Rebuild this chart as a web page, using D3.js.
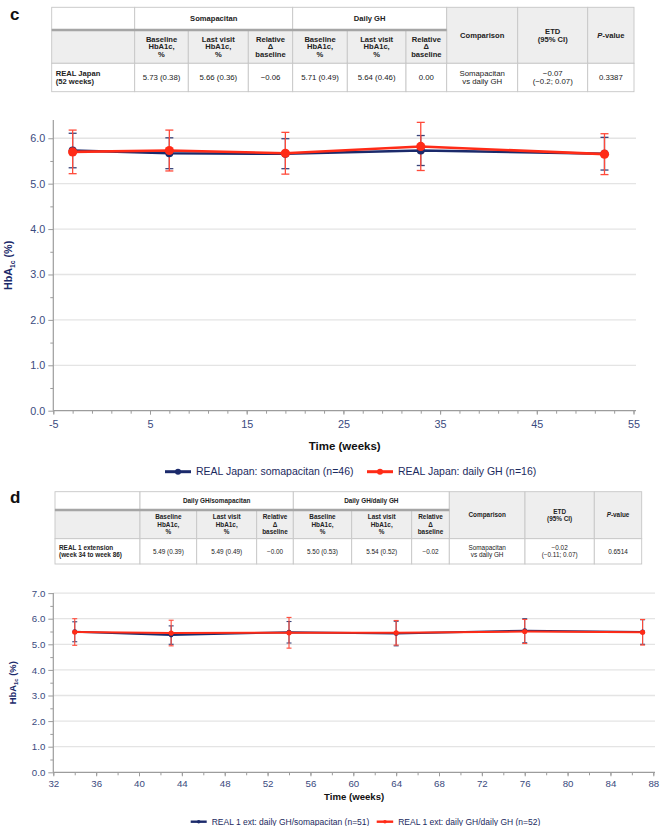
<!DOCTYPE html>
<html><head><meta charset="utf-8">
<script src="https://cdn.jsdelivr.net/npm/d3@7"></script>
<style>body{margin:0;background:#fff} svg{display:block;font-family:"Liberation Sans",Arial,sans-serif}</style>
</head><body><svg id="root" width="660" height="826"></svg>
<script>
// ---------- DATA ----------
// Panel c: REAL Japan
const weeksC = [-3, 7, 19, 33, 52];
const somaC = [5.73, 5.67, 5.66, 5.73, 5.66];
const somaCsd = [0.38, 0.34, 0.33, 0.33, 0.36];
const dailyC = [5.70, 5.73, 5.67, 5.82, 5.65];
const dailyCsd = [0.48, 0.45, 0.46, 0.53, 0.45];
const xTickLabelsC = [-5, 5, 15, 25, 35, 45, 55];
const yTickLabelsC = [0, 1, 2, 3, 4, 5, 6];
const legendC = ["REAL Japan: somapacitan (n=46)", "REAL Japan: daily GH (n=16)"];

// Panel d: REAL 1 extension
const weeksD = [34, 43, 54, 64, 76, 87];
const somaD = [5.49, 5.36, 5.47, 5.42, 5.53, 5.48];
const somaDsd = [0.39, 0.36, 0.42, 0.48, 0.47, 0.48];
const dailyD = [5.48, 5.44, 5.45, 5.45, 5.50, 5.47];
const dailyDsd = [0.52, 0.50, 0.60, 0.48, 0.47, 0.50];
const xTickLabelsD = [32, 36, 40, 44, 48, 52, 56, 60, 64, 68, 72, 76, 80, 84, 88];
const yTickLabelsD = [0, 1, 2, 3, 4, 5, 6, 7];
const legendD = ["REAL 1 ext: daily GH/somapacitan (n=51)", "REAL 1 ext: daily GH/daily GH (n=52)"];

// Tables
const subHeads = ["Baseline\nHbA1c,\n%", "Last visit\nHbA1c,\n%", "Relative\nΔ\nbaseline"];
const extraHeads = ["Comparison", "ETD\n(95% CI)", "P-value"];
const groupsC = ["Somapacitan", "Daily GH"];
const rowC = ["REAL Japan\n(52 weeks)", "5.73 (0.38)", "5.66 (0.36)", "−0.06", "5.71 (0.49)", "5.64 (0.46)", "0.00", "Somapacitan\nvs daily GH", "−0.07\n(−0.2; 0.07)", "0.3387"];
const groupsD = ["Daily GH/somapacitan", "Daily GH/daily GH"];
const rowD = ["REAL 1 extension\n(week 34 to week 86)", "5.49 (0.39)", "5.49 (0.49)", "−0.00", "5.50 (0.53)", "5.54 (0.52)", "−0.02", "Somapacitan\nvs daily GH", "−0.02\n(−0.11; 0.07)", "0.6514"];

const NAVY = "#1b2a6b", RED = "#ff2b17", TICKCOL = "#3a4a7e";
const svg = d3.select("#root");

// ---------- TABLE ----------
function drawTable(cfg) {
  const g = svg.append("g");
  const {cols, rows, groups, row, hfs, bfs, lh} = cfg;
  const grey = "#eeeeee";
  const cells = [];
  cells.push({c0:0,c1:1,r0:0,r1:1,t:"",fill:"#fff"});
  groups.forEach((gr,i)=>cells.push({c0:1+3*i,c1:4+3*i,r0:0,r1:1,t:gr,bold:true,fill:"#fff"}));
  extraHeads.forEach((h,i)=>cells.push({c0:7+i,c1:8+i,r0:0,r1:2,t:h,bold:true,fill:grey}));
  cells.push({c0:0,c1:1,r0:1,r1:2,t:"",fill:grey});
  for (let i=0;i<6;i++) cells.push({c0:1+i,c1:2+i,r0:1,r1:2,t:subHeads[i%3],bold:true,fill:grey});
  row.forEach((t,i)=>cells.push({c0:i,c1:i+1,r0:2,r1:3,t,bold:i===0,left:i===0,fill:"#fff"}));

  cells.forEach(c=>{
    const x0=cols[c.c0], x1=cols[c.c1], y0=rows[c.r0], y1=rows[c.r1];
    g.append("rect").attr("x",x0).attr("y",y0).attr("width",x1-x0).attr("height",y1-y0)
      .attr("fill",c.fill).attr("stroke","#c6c6c6").attr("stroke-width",0.9);
    if (!c.t) return;
    const lines = c.t.split("\n");
    const fs = c.bold ? hfs : bfs;
    const cy = (y0+y1)/2;
    const t = g.append("text").attr("font-size",fs).attr("font-weight",c.bold?"bold":"normal")
      .attr("fill","#222").attr("text-anchor",c.left?"start":"middle");
    lines.forEach((ln,k)=>{
      const ty = cy - (lines.length-1)*lh/2 + k*lh + fs*0.35;
      const tx = c.left ? x0+4 : (x0+x1)/2;
      if (ln==="P-value") {
        const ts = t.append("tspan").attr("x",tx).attr("y",ty);
        ts.append("tspan").attr("font-style","italic").text("P");
        ts.append("tspan").text("-value");
      } else {
        t.append("tspan").attr("x",tx).attr("y",ty).text(ln);
      }
    });
  });
  g.append("line").attr("x1",cols[0]).attr("x2",cols[7]).attr("y1",rows[1]).attr("y2",rows[1])
    .attr("stroke","#a5a5a5").attr("stroke-width",2.4);
}

drawTable({cols:[51.7,134.7,188.3,248.3,292.7,347.3,406,446.7,517.7,587.7,634],
  rows:[7.3,30,63.3,91.7], groups:groupsC, row:rowC, hfs:7.6, bfs:7.8, lh:7.8});
drawTable({cols:[55,140,196.7,256.7,293.3,351.7,411.7,449.3,525,594.3,641.7],
  rows:[491.7,510,538.7,564], groups:groupsD, row:rowD, hfs:6.4, bfs:6.4, lh:7.6});

svg.append("text").attr("x",10).attr("y",20).attr("font-size",17).attr("font-weight","bold").attr("fill","#111").text("c");
svg.append("text").attr("x",10).attr("y",503).attr("font-size",17).attr("font-weight","bold").attr("fill","#111").text("d");

// ---------- CHART ----------
function drawChart(cfg) {
  const g = svg.append("g");
  const x = d3.scaleLinear().domain(cfg.xDomain).range(cfg.xRange);
  const y = d3.scaleLinear().domain(cfg.yDomain).range(cfg.yRange);
  // gridlines
  g.append("g").selectAll("line").data(cfg.yTicks.filter(v=>v>0)).join("line")
    .attr("x1",cfg.xRange[0]).attr("x2",cfg.gridEnd).attr("y1",d=>y(d)).attr("y2",d=>y(d))
    .attr("stroke","#e4e4e4").attr("stroke-width",1.3);
  // y axis
  const yMinor = d3.range(0.5, cfg.yDomain[1], 1);
  const ym = g.append("g").attr("transform",`translate(${cfg.xRange[0]},0)`)
    .call(d3.axisLeft(y).tickValues(yMinor).tickSize(3).tickSizeOuter(0).tickFormat(""));
  const ya = g.append("g").attr("transform",`translate(${cfg.xRange[0]},0)`)
    .call(d3.axisLeft(y).tickValues(cfg.yTicks).tickSize(5).tickSizeOuter(0).tickPadding(3).tickFormat(d3.format(".1f")));
  ya.select(".domain").remove(); ym.select(".domain").remove();
  g.append("line").attr("x1",cfg.xRange[0]).attr("x2",cfg.xRange[0]).attr("y1",cfg.yRange[0]).attr("y2",cfg.yTop)
    .attr("stroke","#9c9c9c").attr("stroke-width",1.2);
  // x axis
  const xMinor = d3.range(cfg.xDomain[0], cfg.xDomain[1]+0.01, 2);
  const xm = g.append("g").attr("transform",`translate(0,${cfg.yRange[0]})`)
    .call(d3.axisBottom(x).tickValues(xMinor).tickSize(3).tickSizeOuter(0).tickFormat(""));
  const xa = g.append("g").attr("transform",`translate(0,${cfg.yRange[0]})`)
    .call(d3.axisBottom(x).tickValues(cfg.xTicks).tickSize(4).tickSizeOuter(0).tickPadding(cfg.xPad).tickFormat(d=>String(d)));
  xa.select(".domain").remove(); xm.select(".domain").remove();
  g.append("line").attr("x1",cfg.xRange[0]).attr("x2",cfg.gridEnd).attr("y1",cfg.yRange[0]).attr("y2",cfg.yRange[0])
    .attr("stroke","#9c9c9c").attr("stroke-width",1.2);
  [ya,xa,ym,xm].forEach(a=>{
    a.selectAll("line").attr("stroke","#9c9c9c");
    a.selectAll("text").attr("font-size",cfg.tfs).attr("fill",TICKCOL).attr("font-family","Liberation Sans, Arial, sans-serif");
  });
  // titles
  g.append("text").attr("x",(cfg.xRange[0]+cfg.gridEnd)/2).attr("y",cfg.xTitleY).attr("text-anchor","middle")
    .attr("font-size",cfg.titleFs).attr("font-weight","bold").attr("fill","#111").text("Time (weeks)");
  const yt = g.append("text").attr("transform",`translate(${cfg.yTitleX},${(cfg.yRange[0]+cfg.yTop)/2}) rotate(-90)`)
    .attr("text-anchor","middle").attr("font-size",cfg.yTitleFs).attr("font-weight","bold").attr("fill",NAVY);
  yt.append("tspan").text("HbA");
  yt.append("tspan").attr("font-size",cfg.yTitleFs*0.62).attr("dy",cfg.yTitleFs*0.25).text("1c");
  yt.append("tspan").attr("dy",-cfg.yTitleFs*0.25).text(" (%)");

  // series
  const series = cfg.series.map(s=>({...s, pts: cfg.weeks.map((w,i)=>({w, v:s.values[i], e:s.sd[i]}))}));
  series.forEach(s=>{
    const eg = g.append("g").attr("stroke",s.errColor).attr("stroke-width",cfg.errW);
    eg.selectAll(".v").data(s.pts).join("line").attr("x1",d=>x(d.w)).attr("x2",d=>x(d.w))
      .attr("y1",d=>y(d.v+d.e)).attr("y2",d=>y(d.v-d.e));
    eg.selectAll(".t").data(s.pts).join("line").attr("x1",d=>x(d.w)-cfg.cap).attr("x2",d=>x(d.w)+cfg.cap)
      .attr("y1",d=>y(d.v+d.e)).attr("y2",d=>y(d.v+d.e));
    eg.selectAll(".b").data(s.pts).join("line").attr("x1",d=>x(d.w)-cfg.cap).attr("x2",d=>x(d.w)+cfg.cap)
      .attr("y1",d=>y(d.v-d.e)).attr("y2",d=>y(d.v-d.e));
  });
  series.forEach(s=>{
    g.append("path").datum(s.pts).attr("fill","none").attr("stroke",s.color).attr("stroke-width",cfg.lineW)
      .attr("d",d3.line().x(d=>x(d.w)).y(d=>y(d.v)));
    g.append("g").selectAll("circle").data(s.pts).join("circle").attr("cx",d=>x(d.w)).attr("cy",d=>y(d.v))
      .attr("r",s.r).attr("fill",s.color);
  });
  // legend
  cfg.legend.forEach((L,i)=>{
    const lg = g.append("g");
    lg.append("line").attr("x1",L.x).attr("x2",L.x+L.w).attr("y1",cfg.legY).attr("y2",cfg.legY)
      .attr("stroke",cfg.series[i].color).attr("stroke-width",cfg.legLineW);
    lg.append("circle").attr("cx",L.x+L.w/2).attr("cy",cfg.legY).attr("r",cfg.legR).attr("fill",cfg.series[i].color);
    lg.append("text").attr("x",L.x+L.w+5).attr("y",cfg.legY+cfg.legFs*0.35).attr("font-size",cfg.legFs)
      .attr("fill","#1b2a5e").text(L.text);
  });
}

drawChart({
  xDomain:[-5,55], xRange:[53.3,633.5], gridEnd:636, yDomain:[0,6.4], yRange:[410.7,120.1], yTop:120.1,
  yTicks:yTickLabelsC, xTicks:xTickLabelsC, xPad:6, tfs:10.8, titleFs:11.5, xTitleY:450,
  yTitleX:12, yTitleFs:10.8, weeks:weeksC, errW:1.3, cap:4, lineW:2.6,
  series:[{values:somaC, sd:somaCsd, color:NAVY, errColor:"#39447a", r:4},
          {values:dailyC, sd:dailyCsd, color:RED, errColor:"#ff4a3a", r:4.6}],
  legY:471.7, legLineW:3, legR:3, legFs:10.5,
  legend:[{x:165,w:26,text:legendC[0]},{x:367,w:26,text:legendC[1]}]
});

drawChart({
  xDomain:[32,88], xRange:[53.3,653.3], gridEnd:655, yDomain:[0,7], yRange:[772.3,593.1], yTop:593.1,
  yTicks:yTickLabelsD, xTicks:xTickLabelsD, xPad:4, tfs:9.7, titleFs:9.6, xTitleY:800,
  yTitleX:16, yTitleFs:9.4, weeks:weeksD, errW:1.1, cap:2.5, lineW:2, 
  series:[{values:somaD, sd:somaDsd, color:NAVY, errColor:"#3a457a", r:2.4},
          {values:dailyD, sd:dailyDsd, color:RED, errColor:"#ff4a3a", r:2.6}],
  legY:821.7, legLineW:2.4, legR:1.8, legFs:8.5,
  legend:[{x:190.7,w:16,text:legendD[0]},{x:376.7,w:16.5,text:legendD[1]}]
});
</script></body></html>
